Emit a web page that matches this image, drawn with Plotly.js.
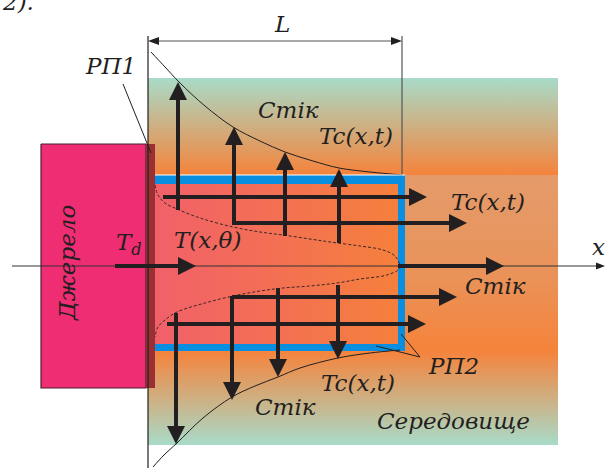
<!DOCTYPE html>
<html><head><meta charset="utf-8">
<script src="https://cdn.plot.ly/plotly-3.0.1.min.js"></script>
<style>html,body{margin:0;padding:0;background:#fff}#c{width:606px;height:468px}</style>
</head><body><div id="c"></div><script>
// ---- diagram data (pixel-space axis units) ----
const upX    = [178, 234, 285, 339];
const upFrom = [210, 225, 236, 243];
const upTo   = [82, 127, 152, 169];

const downX    = [176, 232, 278, 338];
const downFrom = [313, 296, 288, 285];
const downTo   = [444, 400, 377, 359];

const rightY    = [197, 223, 266, 266, 297, 324];
const rightFrom = [163, 232, 115, 398, 232, 167];
const rightTo   = [427, 467, 196, 504, 457, 426];

const upperEnvX = [151, 165, 180, 205, 233, 260, 285, 313, 339, 370, 402];
const upperEnvY = [52, 67, 83, 106, 127, 141, 152, 161, 168, 172, 175];
const lowerEnvX = [153, 164, 177, 203, 232, 255, 278, 300, 338, 370, 400];
const lowerEnvY = [467, 455, 443, 418, 397, 386, 377, 368, 358, 353, 350];

const profX = [155, 158, 165, 177, 200, 233, 260, 283, 310, 330, 360, 383, 395, 400,
               398, 390, 383, 360, 337, 310, 283, 260, 233, 205, 177, 165, 158, 155];
const profY = [185, 195, 203, 209, 218, 227, 232, 235, 239, 242, 246, 250, 256, 266,
               270, 274, 276, 279, 283, 286, 288, 291, 296, 303, 312, 320, 327, 337];

const labelText = ['2).', 'L', 'РП1', 'Стік', 'Tc(x,t)', 'Tc(x,t)', 'T<sub>d</sub>', 'T(x,θ)',
                   'x', 'Стік', 'РП2', 'Tc(x,t)', 'Стік', 'Середовище'];
const labelX = [18, 282, 110, 288, 356, 488, 129, 207, 598, 495, 453, 358, 285, 453];
const labelY = [2, 24, 66, 110, 136, 202, 244, 240, 247, 286, 366, 383, 407, 421];

const sourceLabel = 'Джерело';

// ---- styling ----
const INK = '#231f20';
const TEAL = '#a8dbc8', ORANGE = '#f5833b', PEACH = '#e49b6a';
const FONT = 'DejaVu Serif, Liberation Serif, serif';

function rectTrace(x0, x1, y0, y1, extra) {
  return Object.assign({
    type: 'scatter', mode: 'lines', hoverinfo: 'skip', showlegend: false,
    x: [x0, x1, x1, x0, x0], y: [y0, y0, y1, y1, y0], fill: 'toself',
    line: {width: 0, color: 'rgba(0,0,0,0)'}
  }, extra);
}
function grad(type, cs, start, stop) {
  return {type: type, colorscale: cs, start: start, stop: stop};
}

const traces = [
  rectTrace(148, 558, 78, 175, {fillgradient: grad('vertical', [[0, TEAL], [1, ORANGE]], 78, 175)}),
  rectTrace(405, 558, 175, 351, {fillgradient: grad('vertical', [[0, PEACH], [0.55, '#e9935a'], [1, ORANGE]], 175, 351)}),
  rectTrace(148, 558, 351, 445, {fillgradient: grad('vertical', [[0, ORANGE], [1, TEAL]], 351, 445)}),
  rectTrace(155, 405, 175, 351, {fillcolor: '#0a8fe0'}),
  rectTrace(155, 398, 184, 344, {fillgradient: grad('horizontal', [[0, '#f1606a'], [1, '#f5803c']], 155, 398)}),
  rectTrace(41, 146, 144, 388, {fillcolor: '#ee2d72', line: {width: 1.2, color: '#4a2030'}}),
  rectTrace(146, 155, 144, 388, {fillcolor: '#9b3034'}),
  {type: 'scatter', mode: 'lines', x: upperEnvX, y: upperEnvY, line: {color: INK, width: 1, shape: 'spline'}, hoverinfo: 'skip', showlegend: false},
  {type: 'scatter', mode: 'lines', x: lowerEnvX, y: lowerEnvY, line: {color: INK, width: 1, shape: 'spline'}, hoverinfo: 'skip', showlegend: false},
  {type: 'scatter', mode: 'lines', x: profX, y: profY, line: {color: '#3b2626', width: 1, dash: '3px,2px', shape: 'spline'}, hoverinfo: 'skip', showlegend: false}
];

const shapes = [];
function line(x0, y0, x1, y1, color, width) {
  shapes.push({type: 'line', xref: 'x', yref: 'y', x0: x0, y0: y0, x1: x1, y1: y1, layer: 'above',
               line: {color: color, width: width}});
}
function head(tx, ty, dx, dy, h, w, color) {
  const nx = -dy, ny = dx;
  const bx = tx - h * dx, by = ty - h * dy;
  shapes.push({type: 'path', xref: 'x', yref: 'y', layer: 'above', fillcolor: color, line: {width: 0},
    path: 'M' + tx + ',' + ty + ' L' + (bx + w * nx) + ',' + (by + w * ny) + ' L' + (bx - w * nx) + ',' + (by - w * ny) + ' Z'});
}
function arrow(x0, y0, x1, y1) {
  const L = Math.hypot(x1 - x0, y1 - y0), dx = (x1 - x0) / L, dy = (y1 - y0) / L;
  line(x0, y0, x1 - 14 * dx, y1 - 14 * dy, INK, 4);
  head(x1, y1, dx, dy, 18, 9, INK);
}

// thin construction lines
line(148, 36, 148, 468, INK, 1.2);
line(402, 36, 402, 175, '#555', 1.2);
line(157, 41, 393, 41, '#555', 1.2);
head(148, 41, -1, 0, 11, 4, INK);
head(402, 41, 1, 0, 11, 4, INK);
line(12, 266, 598, 266, '#333', 1);
head(605, 266, 1, 0, 9, 3.5, INK);
line(155, 175, 405, 175, '#ffffff', 1);
// leader lines
line(123, 84, 151, 153, INK, 1);
line(420, 357, 401, 334, INK, 1);
line(420, 357, 376, 346, INK, 1);

for (let i = 0; i < upX.length; i++) arrow(upX[i], upFrom[i], upX[i], upTo[i]);
for (let i = 0; i < downX.length; i++) arrow(downX[i], downFrom[i], downX[i], downTo[i]);
for (let i = 0; i < rightY.length; i++) arrow(rightFrom[i], rightY[i], rightTo[i], rightY[i]);

const annotations = labelText.map((t, i) => ({
  text: t, x: labelX[i], y: labelY[i], xref: 'x', yref: 'y', showarrow: false,
  font: {family: FONT, size: 23, color: INK, style: 'italic'}
}));
annotations.push({text: sourceLabel, x: 67, y: 263, xref: 'x', yref: 'y', showarrow: false, textangle: -90,
  font: {family: FONT, size: 23, color: INK, style: 'italic'}});

const layout = {
  width: 606, height: 468, margin: {l: 0, r: 0, t: 0, b: 0},
  paper_bgcolor: '#ffffff', plot_bgcolor: '#ffffff', showlegend: false,
  xaxis: {range: [0, 606], visible: false, fixedrange: true},
  yaxis: {range: [468, 0], visible: false, fixedrange: true},
  shapes: shapes, annotations: annotations
};
Plotly.newPlot('c', traces, layout, {staticPlot: true, displayModeBar: false});
</script></body></html>
